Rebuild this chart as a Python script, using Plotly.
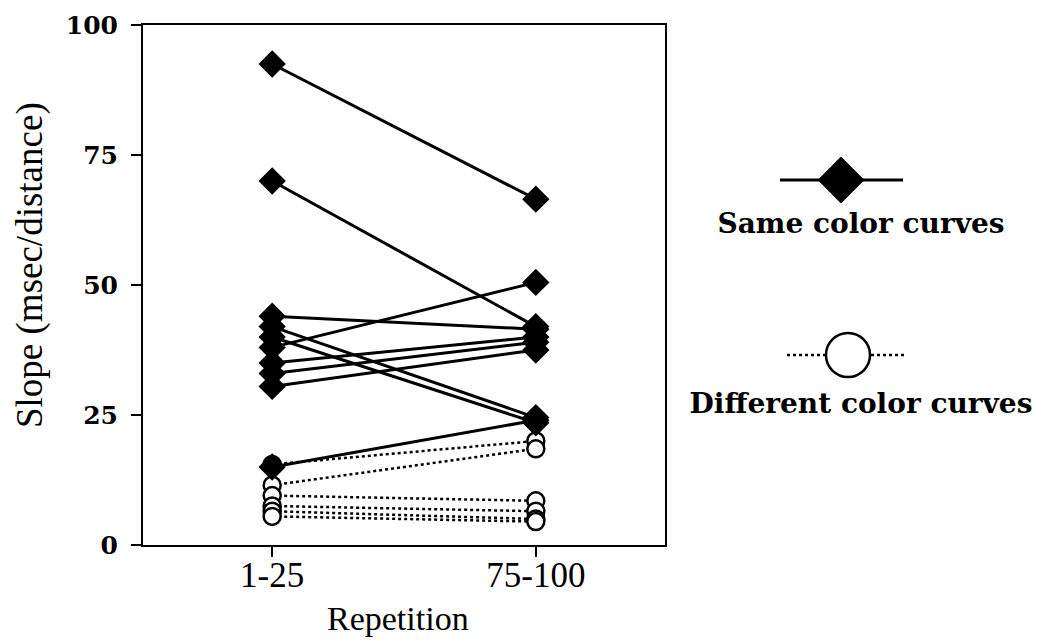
import plotly.graph_objects as go

# ---- data ----
categories = ["1-25", "75-100"]
same_first = [92.5, 70, 44, 42, 40, 38, 35, 33, 30.5, 15]
same_last = [66.5, 42, 41.5, 24.5, 23.5, 50.5, 40, 39, 37.5, 24]
diff_first = [15.5, 11.5, 9.5, 7.5, 6.5, 5.5]
diff_last = [20, 18.5, 8.5, 6.5, 5, 4.5]
y_ticks = [0, 25, 50, 75, 100]
legend_labels = ["Same color curves", "Different color curves"]

OFF = 8                      # page body margin
W, H = 1047 - OFF, 642 - OFF
L, T, B = 143 - OFF, 25 - OFF, 97
plot_w = W - L
box_right = 665 - OFF

fig = go.Figure()

for a, b in zip(diff_first, diff_last):
    fig.add_trace(go.Scatter(
        x=categories, y=[a, b], mode="lines+markers",
        line=dict(color="black", width=2.5, dash="3px,3px"),
        marker=dict(symbol="circle", size=17, color="white",
                    line=dict(color="black", width=2.5)),
        showlegend=False, hoverinfo="skip"))

for a, b in zip(same_first, same_last):
    fig.add_trace(go.Scatter(
        x=categories, y=[a, b], mode="lines+markers",
        line=dict(color="black", width=3),
        marker=dict(symbol="diamond", size=21, color="black"),
        showlegend=False, hoverinfo="skip"))

# ---- custom legend on a helper axis (reference pixel coordinates) ----
fig.add_trace(go.Scatter(
    x=[780, 903], y=[180, 180], mode="lines", xaxis="x2", yaxis="y2",
    line=dict(color="black", width=3), showlegend=False, hoverinfo="skip"))
fig.add_trace(go.Scatter(
    x=[841], y=[180], mode="markers", xaxis="x2", yaxis="y2",
    marker=dict(symbol="diamond", size=36, color="black"),
    showlegend=False, hoverinfo="skip"))
fig.add_trace(go.Scatter(
    x=[787, 907], y=[355, 355], mode="lines", xaxis="x2", yaxis="y2",
    line=dict(color="black", width=2.5, dash="3px,3px"),
    showlegend=False, hoverinfo="skip"))
fig.add_trace(go.Scatter(
    x=[848], y=[355], mode="markers", xaxis="x2", yaxis="y2",
    marker=dict(symbol="circle", size=44, color="white",
                line=dict(color="black", width=2.5)),
    showlegend=False, hoverinfo="skip"))
fig.add_trace(go.Scatter(
    x=[861, 861], y=[226, 406], mode="text", xaxis="x2", yaxis="y2",
    text=legend_labels,
    textfont=dict(family="DejaVu Serif", size=28, color="black", weight="bold"),
    showlegend=False, hoverinfo="skip"))

x2_left = 685
fig.update_layout(
    width=W, height=H,
    margin=dict(l=L, r=0, t=T, b=B),
    paper_bgcolor="white", plot_bgcolor="white",
    xaxis=dict(
        domain=[0, (box_right - L) / plot_w],
        range=[-0.49, 1.49], type="category",
        showgrid=False, zeroline=False,
        showline=True, linecolor="black", linewidth=2, mirror=True,
        ticks="outside", ticklen=10, tickwidth=2, tickcolor="black",
        ticklabelstandoff=-12,
        tickfont=dict(family="Liberation Serif", size=35, color="black"),
    ),
    yaxis=dict(
        range=[0, 100], tickvals=y_ticks,
        showgrid=False, zeroline=False,
        showline=True, linecolor="black", linewidth=2, mirror=True,
        ticks="outside", ticklen=10, tickwidth=2, tickcolor="black",
        ticklabelstandoff=8,
        tickfont=dict(family="DejaVu Serif", size=25, color="black", weight="bold"),
    ),
    xaxis2=dict(domain=[(x2_left - OFF - L) / plot_w, 1], range=[x2_left, 1047],
                visible=False, anchor="y2"),
    yaxis2=dict(domain=[0, 1], range=[545, 25], visible=False, anchor="x2"),
    annotations=[
        dict(text="Slope (msec/distance)", x=(30 - OFF - L) / plot_w, y=(H - B - (265 - OFF)) / (H - B - T),
             xref="paper", yref="paper", textangle=-90, showarrow=False,
             xanchor="center", yanchor="middle",
             font=dict(family="Liberation Serif", size=37, color="black")),
        dict(text="Repetition", x=(398 - OFF - L) / plot_w, y=(H - B - (618 - OFF)) / (H - B - T),
             xref="paper", yref="paper", showarrow=False,
             xanchor="center", yanchor="middle",
             font=dict(family="Liberation Serif", size=34, color="black")),
    ],
)

fig.write_html("out.html")
